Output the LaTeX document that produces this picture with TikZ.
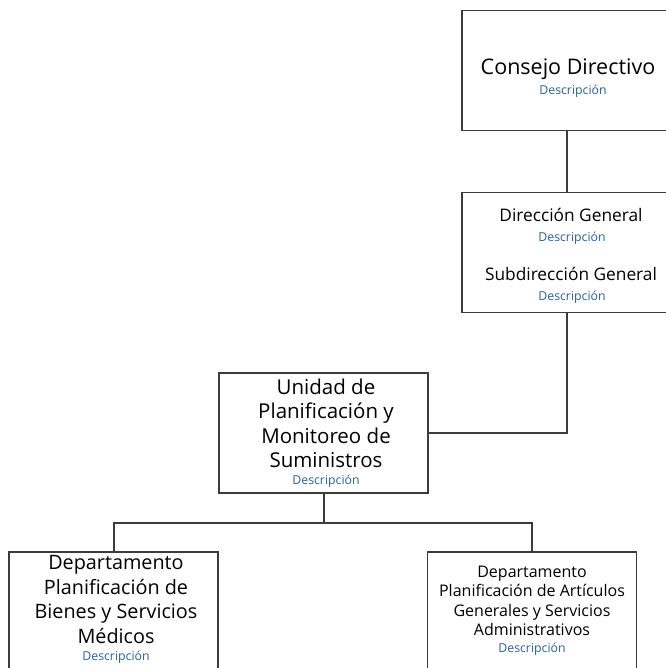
\documentclass[tikz,border=0pt]{standalone}
\usepackage{fontspec}
\setmainfont{Open Sans}
\definecolor{descblue}{RGB}{40,95,165}
\definecolor{boxline}{RGB}{60,60,60}
\begin{document}
\begin{tikzpicture}[x=1pt,y=-1pt,
  orgbox/.style={draw=boxline,line width=1.7pt,fill=white,rectangle,minimum width=209pt,minimum height=120pt,inner sep=0pt},
  conn/.style={draw=boxline,line width=2pt},
  desc/.style={text=descblue,font=\fontsize{12.3}{14}\selectfont,inner sep=0pt},
  huge/.style={font=\fontsize{21.5}{24.5}\selectfont,align=center,inner sep=0pt},
  big/.style={font=\fontsize{20.5}{24.5}\selectfont,align=center,inner sep=0pt},
  bigl/.style={font=\fontsize{19.8}{24.4}\selectfont,align=center,inner sep=0pt},
  mid/.style={font=\fontsize{17.3}{19}\selectfont,align=center,inner sep=0pt},
  small/.style={font=\fontsize{16}{19.3}\selectfont,align=center,inner sep=0pt}]
\useasboundingbox (0,0) rectangle (665,668);
\node[orgbox] (consejo) at (566.5,70.5) {};
\node[orgbox] (direccion) at (566.5,252.5) {};
\node[orgbox] (unidad) at (323.5,433) {};
\node[orgbox] (izq) at (113.5,612) {};
\node[orgbox] (der) at (532,612) {};
\coordinate (junc) at (323.5,523);
\draw[conn] (consejo.south) -- (direccion.north);
\draw[conn] (direccion.south) |- (unidad.east);
\draw[conn] (unidad.south) -- (junc);
\draw[conn] (junc) -| (izq.north);
\draw[conn] (junc) -| (der.north);
% texts
\node[huge] (t1) at (568,69) {Consejo Directivo};
\node[desc] (d1) at (573,91.5) {Descripción};
\node[mid] (t2) at (571,215) {Dirección General};
\node[desc] (d2) at (572,238) {Descripción};
\node[mid] (t3) at (571,274) {Subdirección General};
\node[desc] (d3) at (572,297) {Descripción};
\node[big] (t4) at (326,423.5) {Unidad de\\Planificación y\\Monitoreo de\\Suministros};
\node[desc] (d4) at (326,481) {Descripción};
\node[bigl] (t5) at (116,599.5) {Departamento\\Planificación de\\Bienes y Servicios\\Médicos};
\node[desc] (d5) at (116,657) {Descripción};
\node[small] (t6) at (532,601) {Departamento\\Planificación de Artículos\\Generales y Servicios\\Administrativos};
\node[desc] (d6) at (532,649) {Descripción};
\end{tikzpicture}
\end{document}
